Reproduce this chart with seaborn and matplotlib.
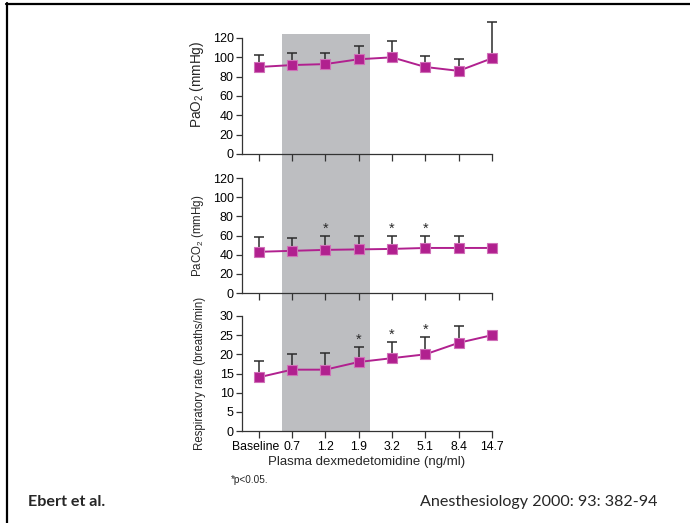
import numpy as np
import pandas as pd
import matplotlib
matplotlib.use("Agg")
import matplotlib.pyplot as plt
import matplotlib.transforms as mtransforms
from matplotlib.patches import Rectangle
from matplotlib.lines import Line2D
import seaborn as sns

# ---------------- data ----------------
categories = ["Baseline", "0.7", "1.2", "1.9", "3.2", "5.1", "8.4", "14.7"]

pao2_mean = [90, 92, 93, 98, 100, 90, 86, 99]
pao2_upper = [102, 104, 105, 112, 117, 101, 98, 137]
pao2_sig = [False, False, False, False, False, False, False, False]

paco2_mean = [43, 44, 45, 45.5, 46, 47, 47, 47]
paco2_upper = [58, 57, 60, 60, 60, 60, 60, np.nan]
paco2_sig = [False, False, True, False, True, True, False, False]

rr_mean = [14, 16, 16, 18, 19, 20, 23, 25]
rr_upper = [18.3, 20.2, 20.3, 22, 23.2, 24.5, 27.4, np.nan]
rr_sig = [False, False, False, True, True, True, False, False]

band_start, band_end = 0.69, 3.33   # shaded region in category-index units

pao2_ticks = [0, 20, 40, 60, 80, 100, 120]
paco2_ticks = [0, 20, 40, 60, 80, 100, 120]
rr_ticks = [0, 5, 10, 15, 20, 25, 30]

# ---------------- style ----------------
sns.set_style("ticks")
plt.rcParams["font.family"] = ["Liberation Sans", "DejaVu Sans"]
plt.rcParams["mathtext.default"] = "regular"

LINE = "#B1208F"
EDGE = "#D070B8"
ERR = "#2b2b2b"
SPINE = "#333333"
BAND = "#BDBEC1"

fig = plt.figure(figsize=(6.9, 5.23), dpi=100)
fig.patch.set_facecolor("white")

W, H = 690.0, 523.0
left = 242 / W
width = 250 / W
panels = [
    dict(top=38, bot=154, mean=pao2_mean, upper=pao2_upper, sig=pao2_sig,
         ticks=pao2_ticks, label="PaO$_2$ (mmHg)", ly=0.6, lfs=9.8),
    dict(top=178, bot=293, mean=paco2_mean, upper=paco2_upper, sig=paco2_sig,
         ticks=paco2_ticks, label="PaCO$_2$ (mmHg)", ly=0.5, lfs=8.3),
    dict(top=316, bot=431, mean=rr_mean, upper=rr_upper, sig=rr_sig,
         ticks=rr_ticks, label="Respiratory rate (breaths/min)", ly=0.5, lfs=8.3),
]

x = np.arange(len(categories))
axes = []
for i, p in enumerate(panels):
    ax = fig.add_axes([left, 1 - p["bot"] / H, width, (p["bot"] - p["top"]) / H])
    ax.set_facecolor("none")
    axes.append(ax)
    mean = np.array(p["mean"], dtype=float)
    upper = np.array(p["upper"], dtype=float)
    ok = ~np.isnan(upper)
    ax.errorbar(x[ok], mean[ok], yerr=[np.zeros(ok.sum()), upper[ok] - mean[ok]],
                fmt="none", ecolor=ERR, elinewidth=1.1, capsize=3.5,
                capthick=1.1, zorder=2, clip_on=False)
    df = pd.DataFrame({"x": x, "y": mean})
    sns.lineplot(data=df, x="x", y="y", ax=ax, color=LINE, linewidth=1.4,
                 marker="s", markersize=7.3, markeredgecolor=EDGE,
                 markeredgewidth=0.8, zorder=3, clip_on=False)
    for xi, s, u in zip(x, p["sig"], upper):
        if s:
            ax.annotate("*", xy=(xi, u), xytext=(0, 0), textcoords="offset points",
                        ha="center", va="bottom", fontsize=10.5, color=ERR)
    yt = p["ticks"]
    ax.set_ylim(yt[0], yt[-1])
    ax.set_yticks(yt)
    ax.set_xlim(-0.5, len(categories) - 1)
    ax.set_xticks(x)
    if i == 2:
        ax.set_xticklabels(categories)
        ax.set_xlabel("Plasma dexmedetomidine (ng/ml)", fontsize=9.5, labelpad=2)
    else:
        ax.set_xticklabels([])
        ax.set_xlabel("")
    ax.set_ylabel(p["label"], fontsize=p["lfs"])
    ax.yaxis.set_label_coords(-0.144, p["ly"])
    for s in ["top", "right"]:
        ax.spines[s].set_visible(False)
    for s in ["left", "bottom"]:
        ax.spines[s].set_color(SPINE)
        ax.spines[s].set_linewidth(0.9)
    ax.tick_params(axis="both", colors=SPINE, labelcolor="black", labelsize=9,
                   width=0.9)
    ax.tick_params(axis="x", length=5, pad=2, labelsize=8.8)
    ax.tick_params(axis="y", length=4, pad=2)

# nudge the long first category label left so it does not touch the next one
base_lbl = axes[2].get_xticklabels()[0]
base_lbl.set_transform(base_lbl.get_transform() +
                       mtransforms.ScaledTranslation(-3 / 100, 0, fig.dpi_scale_trans))

# shaded band spanning all panels
trans = mtransforms.blended_transform_factory(axes[2].transData, fig.transFigure)
band = Rectangle((band_start, 1 - 431 / H), band_end - band_start, (431 - 34) / H,
                 transform=trans, facecolor=BAND, edgecolor="none", zorder=-1)
fig.patches.append(band)

# footnote and citation
fig.text(231 / W, 1 - 480 / H, "*p<0.05.", fontsize=7.2, va="center", ha="left")
fig.text(28 / W, 1 - 502 / H, "Ebert et al.", fontsize=11.6, fontweight="bold",
         family=["Lato", "DejaVu Sans"], va="center", ha="left")
fig.text(657 / W, 1 - 502 / H, "Anesthesiology 2000: 93: 382-94", fontsize=11.6,
         family=["Lato", "DejaVu Sans"], va="center", ha="right")

# slide frame
fig.add_artist(Line2D([7 / W, 7 / W], [0, 1 - 3 / H], transform=fig.transFigure,
                      color="black", linewidth=1.6))
fig.add_artist(Line2D([6 / W, 1], [1 - 4.3 / H, 1 - 4.3 / H], transform=fig.transFigure,
                      color="black", linewidth=1.6))

fig.savefig("out.png", dpi=100)
